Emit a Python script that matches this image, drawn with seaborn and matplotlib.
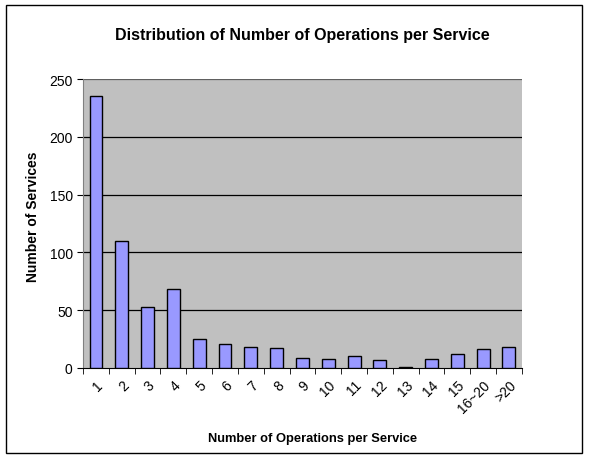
import matplotlib
matplotlib.use("Agg")
import matplotlib.pyplot as plt
import seaborn as sns
import pandas as pd
import numpy as np

# operations per service (x categories) and number of services
categories = ["1", "2", "3", "4", "5", "6", "7", "8", "9", "10", "11", "12",
              "13", "14", "15", "16~20", ">20"]
services = [235, 110, 53, 68, 25, 21, 18, 17, 9, 7.5, 10, 6.5, 1, 7.5, 12, 16, 18]

df = pd.DataFrame({"ops": categories, "count": services})

sns.set_style("white")
plt.rcParams["font.family"] = ["Liberation Sans", "DejaVu Sans"]
plt.rcParams["text.color"] = "black"
plt.rcParams["axes.labelcolor"] = "black"
plt.rcParams["xtick.color"] = "black"
plt.rcParams["ytick.color"] = "black"

fig = plt.figure(figsize=(5.89, 4.60), dpi=100)
ax = fig.add_axes([0.141, 0.198, 0.745, 0.628])
ax.set_facecolor("#C0C0C0")

sns.barplot(data=df, x="ops", y="count", color="#9999FF", width=0.5,
            edgecolor="black", linewidth=1, saturation=1, ax=ax, zorder=3)

ax.set_ylim(0, 250)
ax.set_xlim(-0.5, len(categories) - 0.5)
ax.set_yticks(np.arange(0, 251, 50))
# horizontal gridlines
for yv in range(50, 251, 50):
    ax.axhline(yv, color="black" if yv < 250 else "#606060", linewidth=0.9, zorder=1)

for side in ["top", "right"]:
    ax.spines[side].set_visible(False)
ax.spines["left"].set_color("#808080")
ax.spines["bottom"].set_color("black")

# Excel-style ticks between categories
ax.set_xticks(range(len(categories)))
ax.set_xticks(np.arange(-0.5, len(categories), 1), minor=True)
ax.tick_params(axis="x", which="major", bottom=False, length=0, pad=7)
ax.tick_params(axis="x", which="minor", bottom=True, length=4, direction="out")
ax.tick_params(axis="y", left=True, length=4, direction="out", labelsize=10)
ax.set_xticklabels(categories, rotation=45, ha="right", rotation_mode="anchor", fontsize=10)

ax.set_title("Distribution of Number of Operations per Service", fontsize=11.5,
             fontweight="bold", pad=29)
ax.set_xlabel("Number of Operations per Service", fontsize=9.3, fontweight="bold",
              labelpad=12, x=0.523)
ax.set_ylabel("Number of Services", fontsize=10, fontweight="bold", labelpad=7, y=0.526)

# outer chart frame
fig.patches.append(plt.Rectangle((0.01, 0.013), 0.978, 0.975, transform=fig.transFigure,
                                 fill=False, edgecolor="black", linewidth=1))

fig.savefig("out.png", dpi=100)
